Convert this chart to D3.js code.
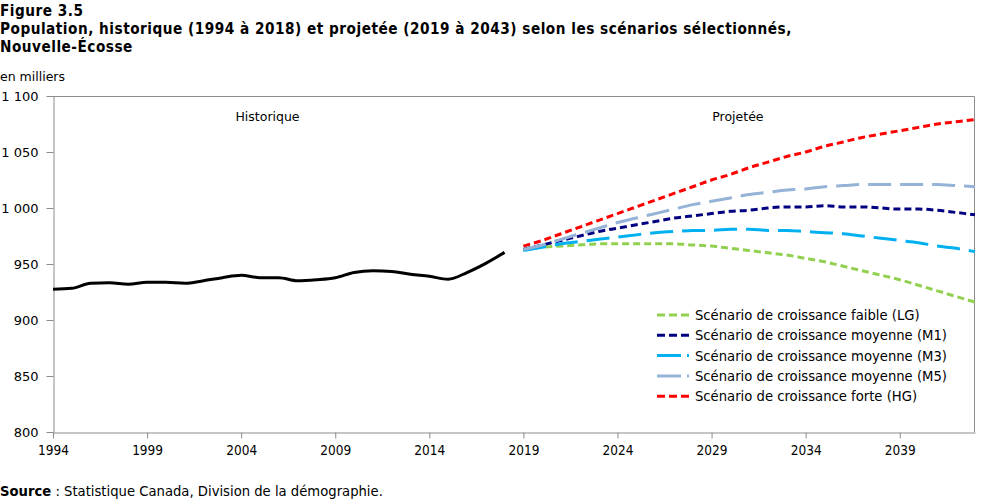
<!DOCTYPE html>
<html>
<head>
<meta charset="utf-8">
<script src="https://cdn.jsdelivr.net/npm/d3@7"></script>
<style>
  body { margin: 0; background: #fff; }
  svg text { fill: #000; }
</style>
</head>
<body>
<div id="chart"></div>
<script>
// historical series, 1994-2018 (thousands)
const histYears = d3.range(1994, 2019);
const histValues = [927.4, 928.3, 932.8, 933.3, 931.9, 933.6, 933.6, 932.8, 935.1, 937.8,
    939.9, 937.8, 937.8, 935.1, 936.0, 937.8, 942.4, 944.0, 943.4, 940.8,
    939.0, 936.4, 942.4, 950.6, 960.4];

// projections, 2019-2043
const projYears = d3.range(2019, 2044);
const lgValues = [963, 965, 966, 967, 968, 968, 968, 968, 968, 967, 966, 964, 962, 960, 958,
    955, 952, 948, 944, 940, 936, 931, 926, 921, 916];
const m1Values = [963, 967, 971, 975, 979, 982, 985, 988, 991, 993, 995, 997, 998, 1000, 1001,
    1001, 1002, 1001, 1001, 1000, 999, 999, 998, 996, 994];
const m3Values = [962, 965, 968, 970, 972, 974, 976, 978, 979, 980, 980, 981, 981, 980, 980,
    979, 978, 977, 975, 973, 971, 969, 966, 964, 961];
const m5Values = [963, 967, 972, 977, 982, 987, 991, 995, 999, 1003, 1006, 1009, 1012, 1014, 1016,
    1017, 1019, 1020, 1021, 1021, 1021, 1021, 1021, 1020, 1019];
const hgValues = [966, 971, 977, 983, 989, 995, 1001, 1007, 1013, 1019, 1025, 1030, 1036, 1041, 1046,
    1050, 1055, 1059, 1063, 1066, 1069, 1072, 1075, 1077, 1079];

const xTicks = [1994, 1999, 2004, 2009, 2014, 2019, 2024, 2029, 2034, 2039];
const yTicks = [800, 850, 900, 950, 1000, 1050, 1100];

const series = [
    { name: "Scénario de croissance faible (LG)", values: lgValues, color: "#92d050", dash: "7,4" },
    { name: "Scénario de croissance moyenne (M1)", values: m1Values, color: "#000080", dash: "7,4" },
    { name: "Scénario de croissance moyenne (M3)", values: m3Values, color: "#00b0f0", dash: "23,9" },
    { name: "Scénario de croissance moyenne (M5)", values: m5Values, color: "#95b3d7", dash: "23,9" },
    { name: "Scénario de croissance forte (HG)", values: hgValues, color: "#ff0000", dash: "7,4" }
];

const W = 999, H = 500;
const margin = { left: 53, right: 24, top: 96, bottom: 68 };
const width = W - margin.left - margin.right;
const height = H - margin.top - margin.bottom;

const svg = d3.select("#chart").append("svg")
    .attr("width", W)
    .attr("height", H);

const titleFont = "'DejaVu Sans Condensed', 'DejaVu Sans', sans-serif";
const bodyFont = "'DejaVu Sans', Verdana, sans-serif";

[["Figure 3.5", 16],
 ["Population, historique (1994 à 2018) et projetée (2019 à 2043) selon les scénarios sélectionnés,", 34],
 ["Nouvelle-Écosse", 52]].forEach(([t, yy]) => {
    svg.append("text").attr("x", 0).attr("y", yy)
        .style("font-family", titleFont).style("font-weight", "bold").style("font-size", "15.2px")
        .style("letter-spacing", "0.5px")
        .text(t);
});

svg.append("text").attr("x", 0).attr("y", 81)
    .style("font-family", bodyFont).style("font-size", "12.5px")
    .text("en milliers");

const g = svg.append("g")
    .attr("transform", `translate(${margin.left}, ${margin.top})`);

const x = d3.scaleLinear().domain([1994, 2043]).range([0, width]);
const y = d3.scaleLinear().domain([800, 1100]).range([height, 0]);

// frame top + right
g.append("path")
    .attr("d", `M0,0.5H${width - 0.5}V${height}`)
    .attr("fill", "none").attr("stroke", "#8c8c8c");

const fmt = d => d3.format(",")(d).replace(",", " ");

const yAxis = g.append("g")
    .attr("transform", "translate(0.5,0)")
    .call(d3.axisLeft(y).tickValues(yTicks).tickSize(7).tickSizeOuter(0).tickFormat(fmt).tickPadding(8));
yAxis.selectAll("text").style("font-family", bodyFont).style("font-size", "13px");

const xAxis = g.append("g")
    .attr("transform", `translate(0,${height + 0.5})`)
    .call(d3.axisBottom(x).tickValues(xTicks).tickSize(6).tickSizeOuter(0).tickFormat(d3.format("d")).tickPadding(7));
xAxis.selectAll("text").style("font-family", titleFont).style("font-size", "13.5px");

[yAxis, xAxis].forEach(a => {
    a.select(".domain").attr("stroke", "#8c8c8c");
    a.selectAll(".tick line").attr("stroke", "#8c8c8c");
});

g.append("text").attr("x", x(2005.4)).attr("y", 25).attr("text-anchor", "middle")
    .style("font-family", bodyFont).style("font-size", "12.5px").text("Historique");
g.append("text").attr("x", x(2030.4)).attr("y", 25).attr("text-anchor", "middle")
    .style("font-family", bodyFont).style("font-size", "12.5px").text("Projetée");

const line = d3.line()
    .x(d => x(d[0]))
    .y(d => y(d[1]))
    .curve(d3.curveMonotoneX);

g.append("path")
    .datum(histYears.map((yr, i) => [yr, histValues[i]]))
    .attr("fill", "none")
    .attr("stroke", "#000")
    .attr("stroke-width", 3)
    .attr("d", line);

series.forEach(s => {
    g.append("path")
        .datum(projYears.map((yr, i) => [yr, s.values[i]]))
        .attr("fill", "none")
        .attr("stroke", s.color)
        .attr("stroke-width", 3)
        .attr("stroke-dasharray", s.dash)
        .attr("d", line);
});

// legend
const legend = svg.append("g").attr("transform", "translate(657, 315)");
series.forEach((s, i) => {
    const row = legend.append("g").attr("transform", `translate(0, ${i * 20.3})`);
    row.append("line")
        .attr("x1", 0).attr("x2", 32).attr("y1", 0).attr("y2", 0)
        .attr("stroke", s.color).attr("stroke-width", 3)
        .attr("stroke-dasharray", s.dash === "7,4" ? "8,4" : "24,6");
    row.append("text").attr("x", 38).attr("y", 5)
        .style("font-family", bodyFont).style("font-size", "13.2px")
        .text(s.name);
});

const src = svg.append("text").attr("x", 0).attr("y", 496)
    .style("font-family", bodyFont).style("font-size", "13.2px");
src.append("tspan").style("font-weight", "bold").text("Source");
src.append("tspan").text(" : Statistique Canada, Division de la démographie.");
</script>
</body>
</html>
